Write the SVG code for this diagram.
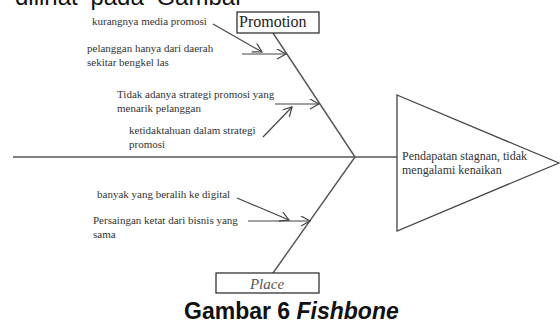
<svg xmlns="http://www.w3.org/2000/svg" width="560" height="323" viewBox="0 0 560 323">
<style>
.lbl{font-family:"Liberation Serif","Times New Roman",serif;font-size:11px;fill:#333}
.bone{stroke:#555;stroke-width:1.4;fill:none}
.arr{stroke:#444;stroke-width:1.2;fill:none}
.box{fill:#fff;stroke:#222;stroke-width:1.2}
</style>
<defs>
<marker id="ah" markerUnits="userSpaceOnUse" markerWidth="12" markerHeight="12" refX="10" refY="5" orient="auto">
<path d="M1,0 L10,5 L1,10" fill="none" stroke="#444" stroke-width="1.2"/>
</marker>
</defs>
<rect width="560" height="323" fill="#fff"/>
<text x="15" y="5" style="font-family:'Liberation Sans',Arial,sans-serif;font-size:24px;fill:#111" word-spacing="6">dilihat pada Gambar</text>
<g id="connectors">
<line class="bone" x1="13" y1="157" x2="397" y2="157"/>
<line class="bone" x1="273" y1="33" x2="355" y2="157"/>
<line class="bone" x1="355" y1="157" x2="273" y2="273"/>
<line class="arr" x1="213" y1="24" x2="262" y2="52" marker-end="url(#ah)"/>
<line class="arr" x1="242" y1="54" x2="286" y2="54" marker-end="url(#ah)"/>
<line class="arr" x1="275" y1="104" x2="319" y2="104" marker-end="url(#ah)"/>
<line class="arr" x1="263" y1="137" x2="292" y2="107" marker-end="url(#ah)"/>
<line class="arr" x1="237" y1="198" x2="289" y2="220" marker-end="url(#ah)"/>
<line class="arr" x1="248" y1="221" x2="310" y2="221" marker-end="url(#ah)"/>
</g>
<g id="promotion">
<rect class="box" x="237" y="12" width="82" height="21"/>
<text x="239" y="27" style="font-family:'Liberation Serif','Times New Roman',serif;font-size:16px;fill:#222">Promotion</text>
</g>
<g id="place">
<rect class="box" x="216" y="273" width="103" height="20"/>
<text x="267" y="289" text-anchor="middle" style="font-family:'Liberation Serif','Times New Roman',serif;font-size:15px;font-style:italic;fill:#555">Place</text>
</g>
<g id="cause1"><text class="lbl" x="92" y="25">kurangnya media promosi</text></g>
<g id="cause2"><text class="lbl" x="87" y="52">pelanggan hanya dari daerah</text><text class="lbl" x="87" y="66">sekitar bengkel las</text></g>
<g id="cause3"><text class="lbl" x="117" y="98">Tidak adanya strategi promosi yang</text><text class="lbl" x="117" y="112">menarik pelanggan</text></g>
<g id="cause4"><text class="lbl" x="129" y="134">ketidaktahuan dalam strategi</text><text class="lbl" x="129" y="148">promosi</text></g>
<g id="cause5"><text class="lbl" x="97" y="198">banyak yang beralih ke digital</text></g>
<g id="cause6"><text class="lbl" x="93" y="224">Persaingan ketat dari bisnis yang</text><text class="lbl" x="93" y="238">sama</text></g>
<g id="effect">
<polygon points="397,95 559,163 397,231" fill="#fff" stroke="#444" stroke-width="1.3"/>
<text class="lbl" x="402" y="160" style="font-size:12px">Pendapatan stagnan, tidak</text>
<text class="lbl" x="402" y="174" style="font-size:12px">mengalami kenaikan</text>
</g>
<text x="184" y="319" style="font-family:'Liberation Sans',Arial,sans-serif;font-size:23px;font-weight:bold;fill:#111">Gambar 6 <tspan font-style="italic">Fishbone</tspan></text>
</svg>
